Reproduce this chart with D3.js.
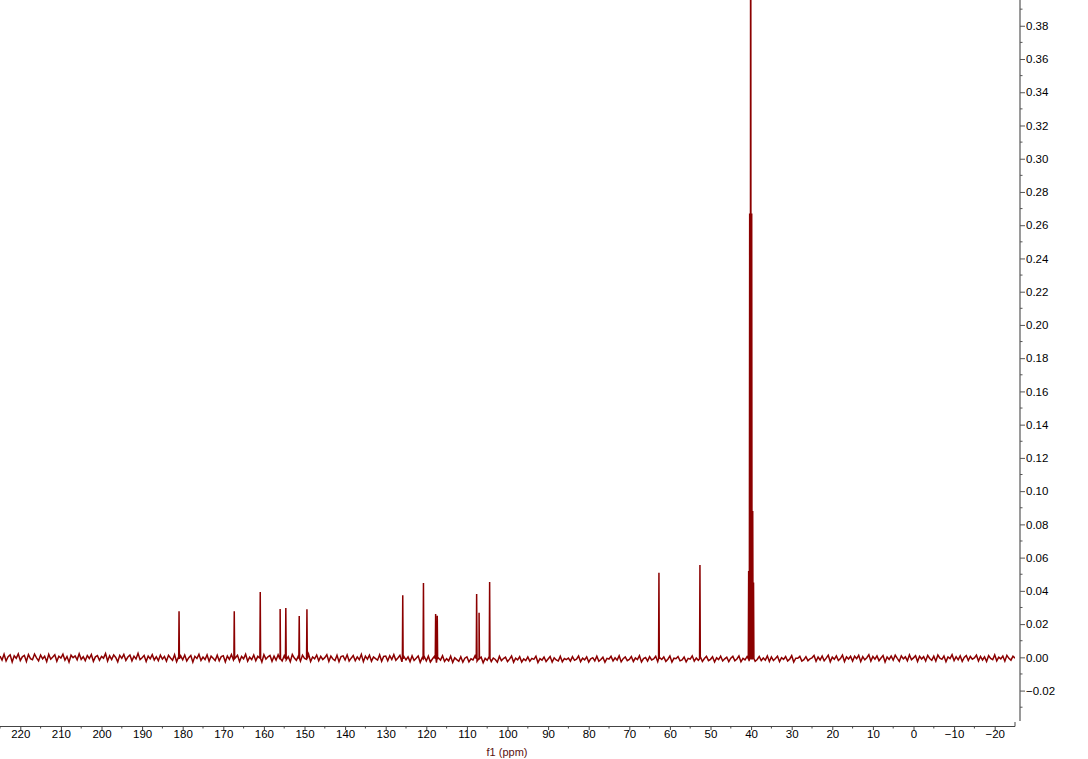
<!DOCTYPE html>
<html>
<head>
<meta charset="utf-8">
<script src="https://cdn.jsdelivr.net/npm/d3@7"></script>
<style>
  html, body { margin: 0; padding: 0; background: #fff; }
  svg { display: block; }
  text { font-family: "Liberation Sans", "DejaVu Sans", sans-serif; }
</style>
</head>
<body>
<svg id="chart" width="1088" height="759"></svg>
<script>
// ---- data ----
const xTicks = [220,210,200,190,180,170,160,150,140,130,120,110,100,90,80,70,60,50,40,30,20,10,0,-10,-20];
const yTicks = [-0.02,0.00,0.02,0.04,0.06,0.08,0.10,0.12,0.14,0.16,0.18,0.20,0.22,0.24,0.26,0.28,0.30,0.32,0.34,0.36,0.38];
const xLabel = "f1 (ppm)";

// peak positions (ppm) and intensities
const peakPpm = [180.9,167.3,160.9,156.0,154.6,151.3,149.4,125.8,120.7,117.7,117.3,107.6,107.0,104.4,62.7,52.6,
                 40.6,40.35,40.1,39.85,39.6,39.4];
const peakHeight = [0.0277,0.0277,0.0393,0.0291,0.0297,0.0248,0.0289,0.0373,0.0447,0.0260,0.0250,0.0381,0.0268,0.0453,0.0509,0.0555,
                    0.052,0.267,0.62,0.267,0.088,0.045];

// baseline noise, read every 0.5 ppm from 225 down to -25 (in 1e-3 intensity units)
const baselineStart = 225, baselineStep = 0.5;
const baselineMilli = [
 0.8,-1.6,1.9,-2.2,0.4,1.5,-2.8,0.9,-0.6,2.1,-1.9,0.3,1.2,-2.5,1.7,-0.8,-1.4,2.0,-0.3,-2.1,
 1.4,-0.9,0.6,-2.6,1.8,-1.1,0.2,1.6,-2.3,0.7,-0.4,1.9,-1.7,0.5,-2.9,1.3,-0.2,0.8,-1.5,2.2,
 -1.2,0.4,-2.0,1.1,-0.7,1.7,-2.4,0.3,1.0,-1.8,0.6,-0.5,2.3,-2.2,0.9,-1.3,1.5,-0.1,-2.7,1.2,
 -0.6,1.8,-1.9,0.2,1.4,-2.1,0.7,-1.0,2.4,-1.4,-0.3,1.1,-2.5,0.8,-0.9,1.6,-1.6,0.4,-2.0,1.3,
 -1.1,0.5,-2.3,1.2,-0.4,-1.8,1.6,-2.6,0.3,0.9,-1.5,1.4,-2.2,-0.2,1.1,-2.9,0.6,-0.7,1.8,-1.9,
 0.2,-1.3,1.5,-2.4,0.7,-0.5,-1.9,1.3,-2.1,0.4,1.0,-2.7,0.8,-1.2,1.7,-1.6,-0.3,1.2,-2.5,0.5,
 -0.9,1.9,-2.3,0.1,-1.4,1.4,-2.0,0.6,-0.6,-2.8,1.6,-1.1,0.3,1.1,-2.4,0.7,-1.7,1.5,-0.8,-2.2,
 1.0,-1.5,0.4,-2.6,1.7,-0.4,-1.8,0.9,-2.3,1.3,-0.7,-1.2,2.0,-2.5,0.2,-0.9,1.4,-2.1,0.6,-1.3,
 -0.2,1.6,-2.4,0.8,-1.0,-1.9,1.2,-2.7,0.5,0.9,-1.6,1.5,-2.2,-0.5,1.1,-2.0,0.3,-1.4,1.8,-2.6,
 0.7,-1.1,1.3,-2.3,0.2,-0.8,-1.7,1.5,-2.4,0.6,0.8,-2.1,1.0,-1.3,1.6,-1.8,-0.4,1.2,-2.7,0.4,
 -1.5,0.3,-2.6,0.9,-1.9,-0.6,0.8,-3.0,-0.2,0.5,-2.2,0.7,-2.8,-1.0,0.6,-3.2,-0.4,-1.7,1.0,-2.5,
 -0.8,-2.1,0.7,-3.1,-0.3,-1.4,-2.4,0.4,-2.9,-0.5,0.3,-2.7,-0.9,-1.6,0.9,-2.3,-1.2,0.2,-3.3,-0.6,
 -1.8,0.5,-2.5,-0.4,-1.3,-2.9,0.6,-2.0,-0.7,0.1,-2.6,-1.1,0.8,-3.0,-0.5,-1.5,0.4,-2.8,-0.9,-1.9,
 0.3,-2.4,-0.6,-1.2,0.7,-3.1,-0.8,-1.7,0.2,-2.5,-1.0,0.5,-2.9,-0.3,-1.6,-2.2,0.6,-2.7,-0.7,-1.4,
 -0.4,-2.3,0.4,-1.8,-1.1,0.8,-2.6,-0.5,-1.5,0.3,-2.8,-0.9,-0.2,-2.1,0.7,-2.4,-1.3,0.1,-2.9,-0.6,
 -1.0,0.6,-2.2,-0.3,-1.7,0.9,-2.7,-0.8,0.2,-2.0,-1.2,0.5,-2.5,-0.4,-1.4,1.0,-2.8,-0.7,-0.1,-2.3,
 0.4,-1.6,-0.9,0.7,-2.6,-0.2,-1.3,0.3,-2.4,-1.1,0.8,-2.9,-0.5,-0.8,0.5,-2.1,-1.5,0.2,-2.7,-0.6,
 -1.1,0.9,-2.3,-0.4,-1.8,0.4,-2.5,-0.7,0.6,-2.0,-1.2,0.3,-2.8,-0.3,-1.4,0.7,-2.2,-0.9,0.1,-2.6,
 -0.5,0.6,-2.1,-1.0,0.8,-2.7,-0.6,-1.5,0.4,-2.3,-0.8,0.2,-2.4,-1.3,0.5,-2.0,-0.4,-1.7,0.9,-2.5,
 0.3,-1.9,-0.7,0.7,-2.6,-0.2,-1.2,0.5,-2.2,-1.1,1.0,-2.8,-0.5,-0.6,0.6,-2.3,-1.4,0.4,-2.0,-0.9,
 -0.3,1.1,-2.4,0.2,-1.6,0.8,-2.1,-0.5,1.3,-2.7,0.1,-1.2,0.9,-1.9,-0.7,1.4,-2.5,0.3,-1.0,0.6,
 -2.2,0.7,-0.8,1.2,-2.6,0.4,-1.5,-0.2,1.6,-2.3,0.5,-1.1,0.9,-2.0,-0.4,1.1,-2.8,0.2,-1.3,0.8,
 -1.7,1.3,-0.6,-2.4,0.9,-0.9,0.3,-2.1,1.5,-1.4,-0.3,1.0,-2.5,0.6,-1.0,0.4,-2.2,1.2,-0.7,-1.8,
 0.7,-2.3,1.4,-0.5,-1.2,0.8,-2.6,0.2,-0.8,1.6,-2.0,0.4,-1.5,0.9,-2.4,-0.1,1.1,-1.9,0.5,-1.1,
 -0.4,1.3,-2.2,0.6,-1.6,0.3,-2.5,1.0,-0.7,-1.4,1.5,-2.1,0.1,-0.9,0.8,-2.3,1.2,-0.6,-1.7,0.7,
 -0.5
];

// ---- layout ----
const svg = d3.select("#chart");
const plotLeft = 0, plotRight = 1015, plotTop = 0, plotBottom = 720;
const x = d3.scaleLinear().domain([225, -25]).range([plotLeft, plotRight]);
const y = d3.scaleLinear().domain([-0.0377, 0.3955]).range([plotBottom, plotTop]);

// build spectrum points
const pts = baselineMilli.map((v, i) => [baselineStart - i * baselineStep, v / 1000]);
peakPpm.forEach((p, i) => {
  pts.push([p + 0.09, -0.0008]);
  pts.push([p, peakHeight[i]]);
  pts.push([p - 0.09, -0.0008]);
});
pts.sort((a, b) => b[0] - a[0]);

svg.append("defs").append("clipPath").attr("id", "clip")
  .append("rect").attr("x", plotLeft).attr("y", plotTop)
  .attr("width", plotRight - plotLeft).attr("height", plotBottom - plotTop);

svg.append("path")
  .datum(pts)
  .attr("clip-path", "url(#clip)")
  .attr("fill", "none")
  .attr("stroke", "#8B0000")
  .attr("stroke-width", 1.5)
  .attr("stroke-linejoin", "miter")
  .attr("d", d3.line().x(d => x(d[0])).y(d => y(d[1])));

// ---- x axis ----
const fmtX = v => (v < 0 ? "\u2212" + Math.abs(v) : String(v));
const xAxisY = 726;
const xg = svg.append("g").attr("transform", `translate(0,${xAxisY})`);
const xAxis = d3.axisBottom(x).tickValues(xTicks).tickFormat(fmtX).tickSize(4).tickSizeOuter(0);
xg.call(xAxis);
xg.select(".domain").attr("stroke", "#444").attr("d", `M${plotLeft},0.5H${plotRight}V-4`);
xg.selectAll(".tick line").attr("stroke", "#444");
xg.selectAll(".tick text").attr("fill", "#000").attr("font-size", 11.5).attr("dy", "0.45em")
  .attr("font-family", "'Liberation Sans', sans-serif");
// minor ticks
const xMinor = d3.range(-20, 226, 5).filter(v => v % 10 !== 0 && v <= 225 && v >= -25);
xg.selectAll(".minor").data(xMinor).enter().append("line")
  .attr("x1", d => x(d)).attr("x2", d => x(d)).attr("y1", 0).attr("y2", 2.5)
  .attr("stroke", "#444");

svg.append("text")
  .attr("x", 507).attr("y", 756)
  .attr("text-anchor", "middle")
  .attr("font-size", 11)
  .attr("fill", "#5a1010")
  .text(xLabel);

// ---- y axis ----
const fmtY = v => (v < 0 ? "\u2212" + Math.abs(v).toFixed(2) : v.toFixed(2));
const yAxisX = 1020;
const yg = svg.append("g").attr("transform", `translate(${yAxisX},0)`);
yg.call(d3.axisRight(y).tickValues(yTicks).tickFormat(fmtY).tickSize(5).tickSizeOuter(0).tickPadding(1));
yg.select(".domain").attr("stroke", "#9a9a9a").attr("stroke-width", 2).attr("d", `M0,${plotTop}V${plotBottom + 1}`);
yg.selectAll(".tick line").attr("stroke", "#555");
yg.selectAll(".tick text").attr("fill", "#000").attr("font-size", 11.5);
const yMinor = d3.range(-0.03, 0.40, 0.02).map(v => +v.toFixed(2));
yg.selectAll(".minor").data(yMinor).enter().append("line")
  .attr("x1", 0).attr("x2", 2.5).attr("y1", d => y(d)).attr("y2", d => y(d))
  .attr("stroke", "#555");
</script>
</body>
</html>
